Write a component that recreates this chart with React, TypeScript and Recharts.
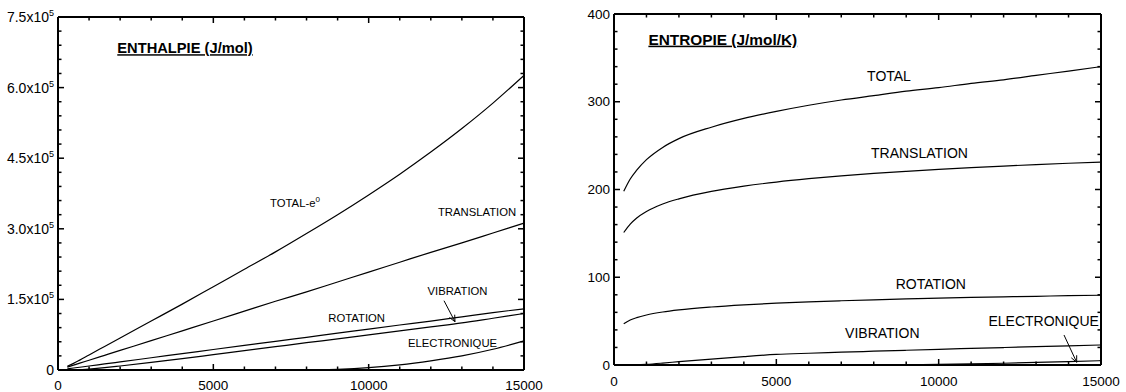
import React from 'react';
import { LineChart, Line, XAxis, YAxis, ReferenceDot, ReferenceLine } from 'recharts';

const FONT = '"Liberation Sans", Arial, Helvetica, sans-serif';

// température (K)
const temps = [300, 500, 700, 1000, 1500, 2000, 3000, 4000, 5000, 6000, 7000, 8000, 9000, 10000, 11000, 12000, 13000, 14000, 15000];

// enthalpie (J/mol)
const hTotal = [8000, 14000, 21000, 32000, 50000, 68000, 104000, 140000, 177000, 214000, 251000, 290000, 330000, 372000, 416000, 463000, 513000, 567000, 626000];
const hTranslation = [6200, 10400, 14600, 20800, 31200, 41600, 62400, 83200, 104000, 125000, 146000, 166000, 187000, 208000, 229000, 250000, 270000, 291000, 312000];
const hRotation = [2500, 4200, 5900, 8500, 12900, 17200, 26000, 34700, 43500, 52200, 60800, 69500, 78200, 87000, 95600, 104000, 113000, 122000, 130000];
const hVibration = [0, 100, 300, 2000, 5000, 8500, 16000, 24000, 32500, 41000, 49500, 58000, 66000, 74500, 83000, 91500, 100000, 110000, 120000];
const hElectronique = [0, 0, 0, 0, 0, 0, 0, 0, 0, 0, 0, 0, 1500, 5000, 11000, 19500, 30000, 44000, 62000];

// entropie (J/mol/K)
const sTotal = [198, 212, 222, 234, 248, 258, 271, 281, 289, 296, 302, 307, 312, 316, 321, 325, 330, 335, 340];
const sTranslation = [151, 160.6, 167.6, 175, 183.5, 189.4, 197.9, 203.8, 208.5, 212.3, 215.5, 218.3, 220.7, 222.9, 224.9, 226.7, 228.4, 229.9, 231.3];
const sRotation = [47, 51.2, 54, 57, 60.4, 62.8, 66.1, 68.5, 70.4, 71.9, 73.2, 74.3, 75.3, 76.2, 77, 77.7, 78.3, 79, 79.5];
const sVibration = [0, 0, 0.2, 0.8, 2.2, 3.8, 6.8, 9.6, 12, 13.4, 14.6, 15.7, 16.8, 17.9, 18.9, 19.9, 20.9, 21.9, 22.8];
const sElectronique = [0, 0, 0, 0, 0, 0, 0, 0, 0, 0, 0, 0, 0.2, 0.6, 1.2, 2.0, 2.9, 3.9, 4.9];

// axes
const tMajor = [0, 5000, 10000, 15000];
const tMinorStep = 1000;
const hMajor = [0, 150000, 300000, 450000, 600000, 750000];
const hMinorStep = 30000;
const sMajor = [0, 100, 200, 300, 400];
const sMinorStep = 20;

const steps = (max: number, step: number) => Array.from({ length: Math.round(max / step) + 1 }, (_, i) => i * step);
const tTicks = steps(15000, tMinorStep);
const hTicks = steps(750000, hMinorStep);
const sTicks = steps(400, sMinorStep);

const enthalpyData = temps.map((t, i) => ({
  t, total: hTotal[i], trans: hTranslation[i], rot: hRotation[i], vib: hVibration[i], elec: hElectronique[i],
}));
const entropyData = temps.map((t, i) => ({
  t, total: sTotal[i], trans: sTranslation[i], rot: sRotation[i], vib: sVibration[i], elec: sElectronique[i],
}));

type Side = 'bottom' | 'top' | 'left' | 'right';

// inner tick marks (major/minor) + optional label
const makeTick = (side: Side, majors: number[], label?: (v: number, x: number, y: number) => React.ReactNode) =>
  (props: any) => {
    const x = Number(props.x);
    const y = Number(props.y);
    const v = Number(props.payload?.value);
    const major = majors.includes(v);
    const len = major ? 6 : 3.5;
    const dx = side === 'left' ? len : side === 'right' ? -len : 0;
    const dy = side === 'bottom' ? -len : side === 'top' ? len : 0;
    return (
      <g>
        <path d={`M${x},${y}L${x + dx},${y + dy}`} stroke="#000" strokeWidth={1.5} fill="none" />
        {major && label ? label(v, x, y) : null}
      </g>
    );
  };

const xLabel = (off: number) => (v: number, x: number, y: number) => (
  <text x={x} y={y + off} dy="0.35em" textAnchor="middle" fontSize={13.5} fontFamily={FONT} fill="#000" stroke="none">{v}</text>
);

const hLabel = (v: number, x: number, y: number) => (
  <text x={x - 4} y={y} dy="0.35em" textAnchor="end" fontSize={14} fontFamily={FONT} fill="#000" stroke="none">
    {v === 0 ? '0' : (
      <>
        {(v / 100000).toFixed(1)}x10
        <tspan dy={-6} fontSize={9}>5</tspan>
      </>
    )}
  </text>
);

const sLabel = (v: number, x: number, y: number) => (
  <text x={x - 4} y={y} dy="0.35em" textAnchor="end" fontSize={13.5} fontFamily={FONT} fill="#000" stroke="none">{v}</text>
);

const note = (key: string, x: number, y: number, content: React.ReactNode, size: number, bold = false) => (
  <ReferenceDot
    key={key} x={x} y={y} r={1} xAxisId="b" yAxisId="l" ifOverflow="visible"
    shape={(p: any) => (
      <text
        x={p.cx} y={p.cy} dy="0.35em" textAnchor="middle" fontSize={size} fontFamily={FONT} fill="#000"
        fontWeight={bold ? 'bold' : 'normal'} textDecoration={bold ? 'underline' : undefined}
      >
        {content}
      </text>
    )}
  />
);

const seg = (key: string, x1: number, y1: number, x2: number, y2: number) => (
  <ReferenceLine
    key={key} xAxisId="b" yAxisId="l" ifOverflow="visible" stroke="#000" strokeWidth={1}
    segment={[{ x: x1, y: y1 }, { x: x2, y: y2 }]}
  />
);

const curve = (key: string) => (
  <Line
    key={key} type="monotone" dataKey={key} xAxisId="b" yAxisId="l" stroke="#000" strokeWidth={1.2}
    dot={false} activeDot={false} isAnimationActive={false}
  />
);

// frame: bottom/left axes with labels, top/right axes (1px thick) with ticks only
const frameAxes = (yMax: number, yTicks: number[], yMajors: number[], yLabelFn: any, yWidth: number, xHeight: number, xOff: number) => [
  <XAxis
    key="xb" xAxisId="b" type="number" dataKey="t" domain={[0, 15000]} ticks={tTicks} interval={0}
    height={xHeight} tickSize={0} tickMargin={0} tickLine={false}
    axisLine={{ stroke: '#000', strokeWidth: 2 }} tick={makeTick('bottom', tMajor, xLabel(xOff))}
  />,
  <XAxis
    key="xt" xAxisId="t" orientation="top" type="number" dataKey="t" domain={[0, 15000]} ticks={tTicks} interval={0}
    height={1} tickSize={0} tickMargin={0} tickLine={false}
    axisLine={{ stroke: '#000', strokeWidth: 2 }} tick={makeTick('top', tMajor)}
  />,
  <YAxis
    key="yl" yAxisId="l" type="number" domain={[0, yMax]} ticks={yTicks} interval={0}
    width={yWidth} tickSize={0} tickMargin={0} tickLine={false}
    axisLine={{ stroke: '#000', strokeWidth: 2 }} tick={makeTick('left', yMajors, yLabelFn)}
  />,
  <YAxis
    key="yr" yAxisId="r" orientation="right" type="number" domain={[0, yMax]} ticks={yTicks} interval={0}
    width={1} tickSize={0} tickMargin={0} tickLine={false}
    axisLine={{ stroke: '#000', strokeWidth: 2 }} tick={makeTick('right', yMajors)}
  />,
  <Line
    key="ghost" dataKey="total" xAxisId="t" yAxisId="r" stroke="none" dot={false} activeDot={false}
    isAnimationActive={false}
  />,
];

const EnthalpyChart = () => (
  <LineChart width={560} height={392} data={enthalpyData} margin={{ top: 16, right: 35, bottom: 0, left: 0 }}>
    {frameAxes(750000, hTicks, hMajor, hLabel, 58, 22, 15.3)}
    {['total', 'trans', 'rot', 'vib', 'elec'].map(curve)}
    {note('title', 4088, 684000, 'ENTHALPIE (J/mol)', 14.7, true)}
    {note('total', 7629, 355400, <>TOTAL-e<tspan dy={-5} fontSize={8}>0</tspan></>, 11.3)}
    {note('trans', 13488, 336300, 'TRANSLATION', 11.3)}
    {note('vib', 12860, 168500, 'VIBRATION', 11.3)}
    {note('rot', 9615, 111100, 'ROTATION', 11.3)}
    {note('elec', 12699, 58000, 'ELECTRONIQUE', 11.3)}
    {seg('a0', 12425, 147200, 12779, 102600)}
    {seg('a1', 12779, 102600, 12769, 117500)}
    {seg('a2', 12779, 102600, 12599, 111500)}
  </LineChart>
);

const EntropyChart = () => (
  <LineChart width={566} height={392} data={entropyData} margin={{ top: 13, right: 24, bottom: 0, left: 0 }}>
    {frameAxes(400, sTicks, sMajor, sLabel, 54, 27, 16.3)}
    {['total', 'trans', 'rot', 'vib', 'elec'].map(curve)}
    {note('title', 3351, 371.2, 'ENTROPIE (J/mol/K)', 15.4, true)}
    {note('total', 8470, 329.3, 'TOTAL', 14)}
    {note('trans', 9409, 241.3, 'TRANSLATION', 14)}
    {note('rot', 9757, 92.3, 'ROTATION', 14)}
    {note('vib', 8264, 36.1, 'VIBRATION', 14)}
    {note('elec', 13235, 50.5, 'ELECTRONIQUE', 14)}
    {seg('a0', 13860, 34.2, 14251, 3.1)}
    {seg('a1', 14251, 3.1, 14251, 11.1)}
    {seg('a2', 14251, 3.1, 14085, 8.2)}
  </LineChart>
);

export default function App() {
  return (
    <div style={{ position: 'absolute', left: 0, top: 0, width: 1126, height: 392, background: '#fff', fontFamily: FONT }}>
      <div style={{ position: 'absolute', left: 0, top: 0 }}>
        <EnthalpyChart />
      </div>
      <div style={{ position: 'absolute', left: 560, top: 0 }}>
        <EntropyChart />
      </div>
    </div>
  );
}
